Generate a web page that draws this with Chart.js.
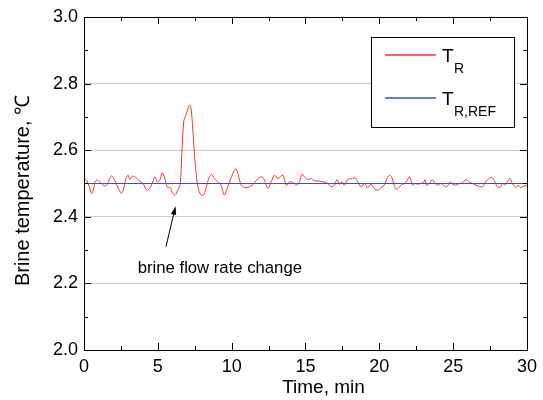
<!DOCTYPE html>
<html>
<head>
<meta charset="utf-8">
<script src="https://cdn.jsdelivr.net/npm/chart.js@4.4.1/dist/chart.umd.min.js"></script>
<style>
  html, body { margin: 0; padding: 0; background: #fff; }
  #wrap { width: 543px; height: 400px; }
</style>
</head>
<body>
<div id="wrap"><canvas id="chart" width="543" height="400"></canvas></div>
<script>
const timeMin = [
  0, 0.18, 0.36, 0.52, 0.63, 0.74, 0.86, 1.08, 1.35, 1.53, 1.87, 2.1, 2.32, 2.54, 2.66, 2.84, 2.99,
  3.1, 3.28, 3.5, 3.74, 4.0, 4.24, 4.41, 4.57, 4.8, 4.95, 5.14, 5.29, 5.45, 5.63, 5.86, 6.01, 6.17,
  6.35, 6.51, 6.62, 6.76, 6.91, 7.14, 7.25, 7.36, 7.52, 7.66, 7.77, 7.93, 8.11, 8.26, 8.49, 8.65,
  8.83, 9.05, 9.28, 9.5, 9.73, 9.95, 10.18, 10.32, 10.45, 10.65, 10.88, 11.22, 11.55, 11.78, 12.0,
  12.12, 12.23, 12.45, 12.68, 12.9, 13.13, 13.47, 13.69, 13.92, 14.14, 14.37, 14.59, 14.75, 14.93,
  15.16, 15.38, 15.61, 15.83, 16.06, 16.28, 16.51, 16.73, 16.96, 17.14, 17.3, 17.45, 17.63, 17.86,
  18.2, 18.36, 18.54, 18.76, 18.99, 19.21, 19.44, 19.66, 19.89, 20.12, 20.34, 20.52, 20.68, 20.83,
  20.97, 21.13, 21.28, 21.46, 21.69, 21.87, 22.03, 22.14, 22.25, 22.41, 22.59, 22.82, 23.0, 23.09,
  23.2, 23.38, 23.6, 23.76, 23.94, 24.17, 24.39, 24.57, 24.8, 24.95, 25.18, 25.41, 25.63, 25.86,
  26.08, 26.31, 26.53, 26.76, 26.98, 27.21, 27.43, 27.66, 27.82, 28.0, 28.18, 28.33, 28.51, 28.67,
  28.85, 29.01, 29.24, 29.39, 29.57, 29.8, 30.0
];
const brineTemp = [
  2.516, 2.51, 2.49, 2.47, 2.48, 2.505, 2.51, 2.505, 2.493, 2.495, 2.523, 2.508, 2.486, 2.47, 2.48, 2.515, 2.525,
  2.512, 2.522, 2.518, 2.508, 2.5, 2.48, 2.483, 2.495, 2.52, 2.505, 2.51, 2.532, 2.52, 2.49, 2.486, 2.47, 2.465,
  2.48, 2.497, 2.586, 2.688, 2.706, 2.736, 2.726, 2.666, 2.566, 2.505, 2.48, 2.465, 2.466, 2.486, 2.52, 2.527,
  2.515, 2.505, 2.495, 2.465, 2.49, 2.515, 2.54, 2.543, 2.525, 2.495, 2.488, 2.49, 2.502, 2.515, 2.52,
  2.518, 2.51, 2.485, 2.505, 2.525, 2.515, 2.525, 2.495, 2.505, 2.503, 2.495, 2.505, 2.528, 2.52,
  2.512, 2.515, 2.508, 2.508, 2.506, 2.504, 2.5, 2.49, 2.495, 2.512, 2.497, 2.505, 2.495, 2.512,
  2.515, 2.518, 2.505, 2.49, 2.5, 2.488, 2.498, 2.485, 2.48, 2.488, 2.495, 2.515, 2.525, 2.52,
  2.5, 2.482, 2.485, 2.495, 2.5, 2.508, 2.52, 2.51, 2.495, 2.5, 2.498, 2.5, 2.503, 2.512,
  2.495, 2.5, 2.512, 2.5, 2.495, 2.5, 2.492, 2.49, 2.505, 2.498, 2.495, 2.5, 2.502, 2.512,
  2.505, 2.5, 2.495, 2.492, 2.49, 2.505, 2.515, 2.518, 2.505, 2.49, 2.488, 2.5, 2.495, 2.505,
  2.515, 2.5, 2.488, 2.495, 2.488, 2.492, 2.495
];
// reference temperature T_R,REF
const refTime = [0, 30];
const refTemp = [2.5, 2.5];

const yTicks = [2.0, 2.2, 2.4, 2.6, 2.8, 3.0];
const xTicks = [0, 5, 10, 15, 20, 25, 30];
const xTitle = "Time, min";
const yTitle = "Brine temperature, ℃";
const legendLabels = [["T", "R"], ["T", "R,REF"]];
const annotationText = "brine flow rate change";
// arrow: tail and head in data units
const arrowFrom = { x: 5.55, y: 2.31 };
const arrowTo = { x: 6.2, y: 2.432 };
const textAt = { x: 9.2, y: 2.246 };

const FONT = "'Liberation Sans', Arial, sans-serif";
const RED = "#ff3030";
const BLUE = "#3a52b8";

const framePlugin = {
  id: "frame",
  afterDatasetsDraw(chart) {
    const { ctx, chartArea: a, scales } = chart;
    const xs = scales.x, ys = scales.y;
    ctx.save();
    ctx.strokeStyle = "#000";
    ctx.lineWidth = 1;
    ctx.strokeRect(a.left + 0.5, a.top + 0.5, a.right - a.left, a.bottom - a.top);
    ctx.beginPath();
    for (let v = 2.0; v <= 3.0001; v += 0.1) {
      const y = Math.round(ys.getPixelForValue(v)) + 0.5;
      const len = Math.round(v * 10) % 2 === 0 ? 7 : 4;
      ctx.moveTo(a.left, y); ctx.lineTo(a.left + len, y);
      ctx.moveTo(a.right, y); ctx.lineTo(a.right - len, y);
    }
    for (let v = 0; v <= 30.001; v += 2.5) {
      const x = Math.round(xs.getPixelForValue(v)) + 0.5;
      const len = v % 5 === 0 ? 7 : 4;
      ctx.moveTo(x, a.bottom); ctx.lineTo(x, a.bottom - len);
      ctx.moveTo(x, a.top); ctx.lineTo(x, a.top + len);
    }
    ctx.stroke();

    // axis titles
    ctx.fillStyle = "#000";
    ctx.font = "19px " + FONT;
    ctx.textAlign = "center";
    ctx.textBaseline = "middle";
    ctx.fillText(xTitle, (a.left + a.right) / 2 + 18, a.bottom + 38);
    ctx.save();
    ctx.translate(23, (a.top + a.bottom) / 2 + 7);
    ctx.rotate(-Math.PI / 2);
    ctx.font = "20px " + FONT;
    ctx.fillText(yTitle, 0, 0);
    ctx.restore();

    // annotation arrow and text
    const x1 = xs.getPixelForValue(arrowFrom.x), y1 = ys.getPixelForValue(arrowFrom.y);
    const x2 = xs.getPixelForValue(arrowTo.x), y2 = ys.getPixelForValue(arrowTo.y);
    const ang = Math.atan2(y2 - y1, x2 - x1);
    ctx.beginPath();
    ctx.moveTo(x1, y1); ctx.lineTo(x2 - 6 * Math.cos(ang), y2 - 6 * Math.sin(ang));
    ctx.stroke();
    ctx.beginPath();
    ctx.moveTo(x2, y2);
    ctx.lineTo(x2 - 9 * Math.cos(ang - 0.3), y2 - 9 * Math.sin(ang - 0.3));
    ctx.lineTo(x2 - 9 * Math.cos(ang + 0.3), y2 - 9 * Math.sin(ang + 0.3));
    ctx.closePath();
    ctx.fill();
    ctx.font = "16.7px " + FONT;
    ctx.fillText(annotationText, xs.getPixelForValue(textAt.x), ys.getPixelForValue(textAt.y));

    // legend box
    const bx = a.right - 156, by = a.top + 20, bw = 143, bh = 90;
    ctx.fillStyle = "#fff";
    ctx.fillRect(bx, by, bw, bh);
    ctx.strokeStyle = "#000";
    ctx.strokeRect(bx + 0.5, by + 0.5, bw, bh);
    const colors = [RED, BLUE];
    const rows = [by + 18, by + 61];
    legendLabels.forEach((lab, i) => {
      ctx.strokeStyle = colors[i];
      ctx.lineWidth = 1.3;
      ctx.beginPath();
      ctx.moveTo(bx + 14, rows[i]);
      ctx.lineTo(bx + 65, rows[i]);
      ctx.stroke();
      ctx.fillStyle = "#000";
      ctx.textAlign = "left";
      ctx.textBaseline = "alphabetic";
      ctx.font = "19px " + FONT;
      ctx.fillText(lab[0], bx + 71, rows[i] + 7);
      ctx.font = "14px " + FONT;
      ctx.fillText(lab[1], bx + 83, rows[i] + 18);
    });
    ctx.restore();
  }
};

new Chart(document.getElementById("chart").getContext("2d"), {
  type: "line",
  data: {
    datasets: [
      {
        label: "T_R",
        data: timeMin.map((t, i) => ({ x: t, y: brineTemp[i] })),
        borderColor: RED,
        borderWidth: 1,
        pointRadius: 0,
        tension: 0.3,
        fill: false,
        order: 2
      },
      {
        label: "T_R,REF",
        data: refTime.map((t, i) => ({ x: t, y: refTemp[i] })),
        borderColor: BLUE,
        borderWidth: 1.2,
        pointRadius: 0,
        fill: false,
        order: 1
      }
    ]
  },
  options: {
    responsive: false,
    animation: false,
    layout: { padding: { left: 0, right: 15, top: 17, bottom: 0 } },
    plugins: { legend: { display: false }, tooltip: { enabled: false } },
    scales: {
      x: {
        type: "linear",
        min: 0,
        max: 30,
        afterBuildTicks(scale) { scale.ticks = xTicks.map((v) => ({ value: v })); },
        afterFit(scale) { scale.height = 50; },
        grid: { display: false, drawTicks: false },
        border: { display: false },
        ticks: { color: "#000", font: { family: FONT, size: 18 }, padding: 6, maxRotation: 0 },
        title: { display: false }
      },
      y: {
        min: 2.0,
        max: 3.0,
        afterBuildTicks(scale) { scale.ticks = yTicks.map((v) => ({ value: v })); },
        afterFit(scale) { scale.width = 84; },
        grid: {
          drawTicks: false,
          color: (c) => (c.tick && c.tick.value > 2.05 && c.tick.value < 2.95 ? "#cccccc" : "rgba(0,0,0,0)")
        },
        border: { display: false },
        ticks: { color: "#000", font: { family: FONT, size: 18 }, padding: 6, callback: (v) => v.toFixed(1) },
        title: { display: false }
      }
    }
  },
  plugins: [framePlugin]
});
</script>
</body>
</html>
